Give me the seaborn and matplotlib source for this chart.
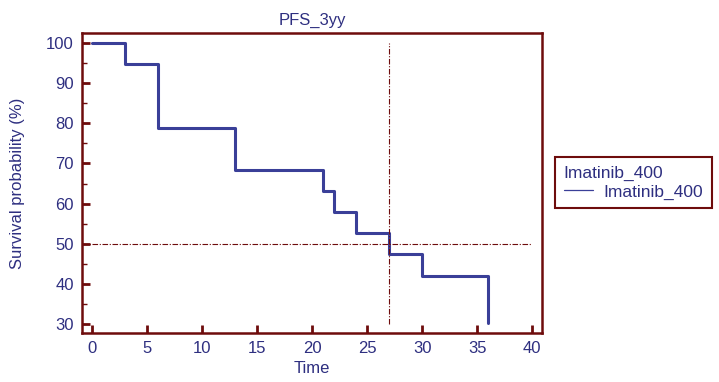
import matplotlib
matplotlib.use("Agg")
import matplotlib.pyplot as plt
import seaborn as sns
import pandas as pd
from matplotlib.ticker import MultipleLocator

# Data
times = [0, 3, 6, 13, 21, 22, 24, 27, 30, 36]
survival = [100, 94.7, 78.9, 68.4, 63.2, 57.9, 52.6, 47.4, 42.1, 30.3]
group = "Imatinib_400"
median_time = 27
median_level = 50

df = pd.DataFrame({"Time": times, "Survival": survival, "Group": [group] * len(times)})

sns.set_style("white")
plt.rcParams["font.family"] = ["Liberation Sans", "DejaVu Sans"]

navy = "#2E2F80"
curve = "#3A3F98"
maroon = "#6E0C0C"

fig = plt.figure(figsize=(7.19, 3.82), dpi=100)
ax = fig.add_axes([0.114, 0.128, 0.640, 0.786])

sns.lineplot(data=df, x="Time", y="Survival", drawstyle="steps-post",
             color=curve, linewidth=2.2, ax=ax, label=group, legend=False)

ax.axhline(median_level, xmin=0, xmax=(40 + 0.9) / 41.8, color=maroon,
           linewidth=0.8, linestyle=(0, (5, 1.5, 1, 1.5)))
ax.plot([median_time, median_time], [30, 100], color=maroon,
        linewidth=0.8, linestyle=(0, (5, 1.5, 1, 1.5)))

ax.set_xlim(-0.9, 40.9)
ax.set_ylim(27.8, 102.5)
ax.xaxis.set_major_locator(MultipleLocator(5))
ax.set_yticks(range(30, 101, 10))
ax.set_yticks(range(35, 100, 10), minor=True)

for s in ax.spines.values():
    s.set_color(maroon)
    s.set_linewidth(1.8)

ax.tick_params(axis="both", which="major", direction="in", length=6, width=2,
               color=maroon, labelcolor=navy, labelsize=12, pad=6)
ax.tick_params(axis="y", which="minor", direction="in", length=3.5, width=1,
               color=maroon, left=True)
ax.tick_params(axis="x", bottom=True)
ax.tick_params(axis="y", left=True)

ax.set_title("PFS_3yy", color=navy, fontsize=12, pad=6)
ax.set_xlabel("Time", color=navy, fontsize=12, labelpad=3)
ax.set_ylabel("Survival probability (%)", color=navy, fontsize=12, labelpad=15)

leg = ax.legend(title=group, loc="center left", bbox_to_anchor=(0.772, 0.522),
                bbox_transform=fig.transFigure, frameon=True, fancybox=False,
                framealpha=1, fontsize=12.5, title_fontsize=12.5, handlelength=1.7,
                borderpad=0.5, labelspacing=0.2, handletextpad=0.6,
                borderaxespad=0)
leg.get_frame().set_edgecolor(maroon)
leg.get_frame().set_linewidth(1.5)
leg._legend_box.align = "left"
leg.get_title().set_color(navy)
for t in leg.get_texts():
    t.set_color(navy)
for l in leg.get_lines():
    l.set_linewidth(0.9)

fig.savefig("out.png", dpi=100)
